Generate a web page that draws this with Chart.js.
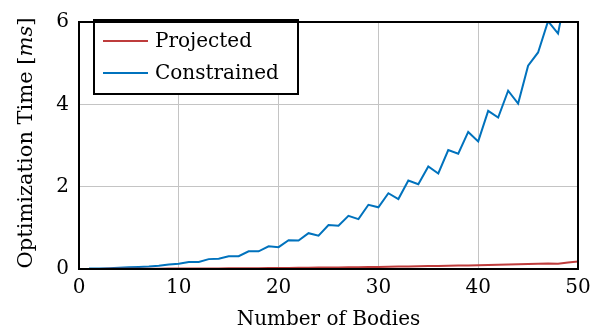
<!DOCTYPE html>
<html>
<head>
<meta charset="utf-8">
<script src="https://cdn.jsdelivr.net/npm/chart.js@4.4.1/dist/chart.umd.min.js"></script>
<style>
  html, body { margin: 0; padding: 0; background: #fff; }
  #wrap { width: 608px; height: 335px; }
</style>
</head>
<body>
<div id="wrap"><canvas id="timingChart" width="608" height="335"></canvas></div>
<script>
// number of bodies (x) and optimization time in ms
const bodies = [1, 2, 3, 4, 5, 6, 7, 8, 9, 10,
                11, 12, 13, 14, 15, 16, 17, 18, 19, 20,
                21, 22, 23, 24, 25, 26, 27, 28, 29, 30,
                31, 32, 33, 34, 35, 36, 37, 38, 39, 40,
                41, 42, 43, 44, 45, 46, 47, 48, 49, 50];

const projected = [0.002, 0.003, 0.004, 0.005, 0.006, 0.007, 0.008, 0.009, 0.010, 0.011,
                   0.012, 0.013, 0.014, 0.015, 0.016, 0.018, 0.019, 0.021, 0.023, 0.025,
                   0.027, 0.029, 0.031, 0.034, 0.036, 0.039, 0.042, 0.045, 0.048, 0.051,
                   0.055, 0.058, 0.062, 0.066, 0.070, 0.074, 0.079, 0.083, 0.088, 0.093,
                   0.098, 0.104, 0.110, 0.115, 0.121, 0.128, 0.136, 0.130, 0.160, 0.180];

const constrained = [0.01, 0.01, 0.02, 0.03, 0.04, 0.05, 0.06, 0.08, 0.11, 0.13,
                     0.17, 0.17, 0.24, 0.25, 0.31, 0.31, 0.43, 0.43, 0.55, 0.53,
                     0.70, 0.69, 0.87, 0.81, 1.07, 1.05, 1.29, 1.21, 1.56, 1.50,
                     1.84, 1.70, 2.15, 2.06, 2.49, 2.32, 2.89, 2.80, 3.33, 3.10,
                     3.84, 3.68, 4.33, 4.02, 4.94, 5.26, 6.02, 5.72, 6.95, 7.30];

const xTicks = [0, 10, 20, 30, 40, 50];
const yTicks = [0, 2, 4, 6];

const seriesNames = ['Projected', 'Constrained'];
const seriesColors = ['rgb(190, 60, 60)', 'rgb(0, 114, 189)'];

const FONT = '"DejaVu Serif", serif';

function toPoints(ys) {
    return bodies.map((b, i) => ({ x: b, y: ys[i] }));
}

// frame, legend box and y title (with italic "ms")
const extras = {
    id: 'extras',
    afterDatasetsDraw(chart) {
        const { ctx, chartArea } = chart;
        ctx.save();
        // legend box
        const lx = 94, ly = 20, lw = 204, lh = 74;
        ctx.fillStyle = '#fff';
        ctx.fillRect(lx, ly, lw, lh);
        ctx.strokeStyle = '#000';
        ctx.lineWidth = 2;
        ctx.strokeRect(lx, ly, lw, lh);
        ctx.font = '20px ' + FONT;
        ctx.textBaseline = 'middle';
        ctx.fillStyle = '#000';
        const rows = [41, 73];
        chart.data.datasets.forEach((ds, i) => {
            ctx.strokeStyle = ds.borderColor;
            ctx.lineWidth = 2;
            ctx.beginPath();
            ctx.moveTo(103, rows[i]);
            ctx.lineTo(148, rows[i]);
            ctx.stroke();
            ctx.fillText(ds.label, 155, rows[i] + 1);
        });
        // frame
        ctx.strokeStyle = '#000';
        ctx.lineWidth = 2;
        ctx.strokeRect(chartArea.left, chartArea.top,
                       chartArea.right - chartArea.left, chartArea.bottom - chartArea.top);
        // y axis title
        ctx.translate(27, 143);
        ctx.rotate(-Math.PI / 2);
        const parts = [['Optimization Time [', ''], ['ms', 'italic '], [']', '']];
        let total = 0;
        parts.forEach(p => { ctx.font = p[1] + '21px ' + FONT; total += ctx.measureText(p[0]).width; });
        let x = -total / 2;
        ctx.textAlign = 'left';
        parts.forEach(p => {
            ctx.font = p[1] + '21px ' + FONT;
            ctx.fillText(p[0], x, 0);
            x += ctx.measureText(p[0]).width;
        });
        ctx.restore();
    }
};

const ctx = document.getElementById('timingChart').getContext('2d');

const timingChart = new Chart(ctx, {
    type: 'line',
    data: {
        datasets: [
            {
                label: seriesNames[0],
                data: toPoints(projected),
                borderColor: seriesColors[0],
                backgroundColor: seriesColors[0],
                borderWidth: 2,
                pointRadius: 0,
                tension: 0
            },
            {
                label: seriesNames[1],
                data: toPoints(constrained),
                borderColor: seriesColors[1],
                backgroundColor: seriesColors[1],
                borderWidth: 2,
                pointRadius: 0,
                tension: 0
            }
        ]
    },
    options: {
        responsive: false,
        animation: false,
        layout: { padding: { top: 11, right: 30, left: 0, bottom: 0 } },
        plugins: {
            legend: { display: false },
            tooltip: { enabled: false }
        },
        scales: {
            x: {
                type: 'linear',
                min: 0,
                max: 50,
                afterFit(scale) { scale.height = 66; },
                afterBuildTicks(scale) { scale.ticks = xTicks.map(v => ({ value: v })); },
                grid: { color: '#c4c4c4', lineWidth: 1, drawTicks: false },
                border: { display: false },
                ticks: { color: '#000', font: { family: FONT, size: 20 }, padding: 7, maxRotation: 0 },
                title: {
                    display: true,
                    text: 'Number of Bodies',
                    color: '#000',
                    font: { family: FONT, size: 20 },
                    padding: { top: 0, bottom: 3 }
                }
            },
            y: {
                min: 0,
                max: 6,
                afterFit(scale) { scale.width = 79; },
                afterBuildTicks(scale) { scale.ticks = yTicks.map(v => ({ value: v })); },
                grid: { color: '#c4c4c4', lineWidth: 1, drawTicks: false },
                border: { display: false },
                ticks: { color: '#000', font: { family: FONT, size: 20 }, padding: 10 }
            }
        }
    },
    plugins: [extras]
});
</script>
</body>
</html>
